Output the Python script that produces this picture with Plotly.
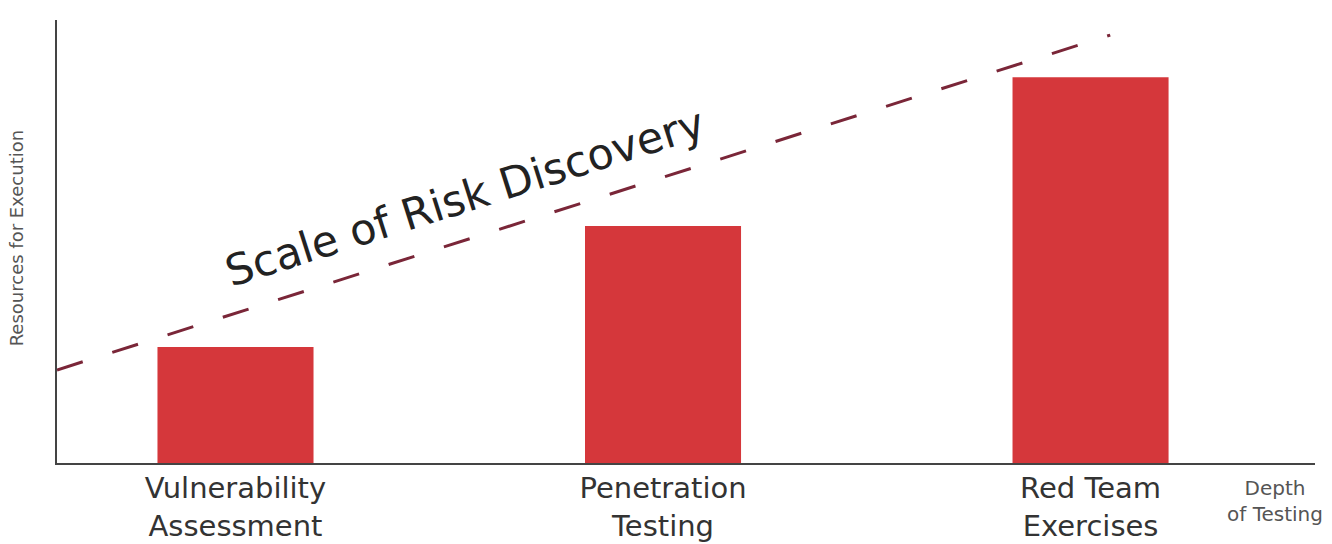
import plotly.graph_objects as go

# ---- data ----
categories = ["Vulnerability<br>Assessment", "Penetration<br>Testing", "Red Team<br>Exercises"]
positions = [0, 1, 2]
resources = [26.2, 53.5, 87.1]          # bar heights (0-100 scale)
trend_x = [-0.4175, 2.046]              # scale of risk discovery trend line
trend_y = [21.0, 96.6]

BAR_COLOR = "#D5373B"
LINE_COLOR = "#7A2638"
TEXT_COLOR = "#333333"
FONT = "DejaVu Sans"

fig = go.Figure()
fig.add_trace(go.Bar(
    x=positions, y=resources, width=0.365,
    marker=dict(color=BAR_COLOR, line=dict(width=0)),
    hoverinfo="skip", showlegend=False,
))
fig.add_trace(go.Scatter(
    x=trend_x, y=trend_y, mode="lines",
    line=dict(color=LINE_COLOR, width=3, dash="27px,31px"),
    hoverinfo="skip", showlegend=False,
))

fig.add_annotation(
    text="Scale of Risk Discovery", xref="paper", yref="paper",
    x=0.3243, y=0.600, xanchor="center", yanchor="middle",
    textangle=-17.6, showarrow=False,
    font=dict(family=FONT, size=43, color="#222222"),
)
fig.add_annotation(
    text="Depth<br>of Testing", xref="paper", yref="paper",
    x=0.968, y=-0.085, xanchor="center", yanchor="middle",
    showarrow=False, align="center",
    font=dict(family=FONT, size=20, color="#555555"),
)
fig.add_annotation(
    text="Resources for Execution", xref="paper", yref="paper",
    x=-0.0315, y=0.508, xanchor="center", yanchor="middle",
    textangle=-90, showarrow=False,
    font=dict(family=FONT, size=18, color="#555555"),
)

fig.update_layout(
    width=1332, height=544,
    margin=dict(l=57, r=17, t=20, b=81, autoexpand=False),
    paper_bgcolor="white", plot_bgcolor="white",
    font=dict(family=FONT, color=TEXT_COLOR),
    xaxis=dict(
        range=[-0.4175, 2.525], tickmode="array", tickvals=positions,
        ticktext=categories, showgrid=False, zeroline=False,
        showline=True, linecolor="#444444", linewidth=2,
        ticks="", tickfont=dict(family=FONT, size=29, color=TEXT_COLOR),
        ticklabelstandoff=-2,
        fixedrange=True, automargin=False,
    ),
    yaxis=dict(
        range=[0, 100], showgrid=False, zeroline=False,
        showline=True, linecolor="#444444", linewidth=2,
        showticklabels=False, ticks="", fixedrange=True, automargin=False,
    ),
)

fig.write_html(
    "out.html",
    config={"displayModeBar": False, "staticPlot": True},
    post_script="document.body.style.margin='0';document.body.style.overflow='hidden';",
)
